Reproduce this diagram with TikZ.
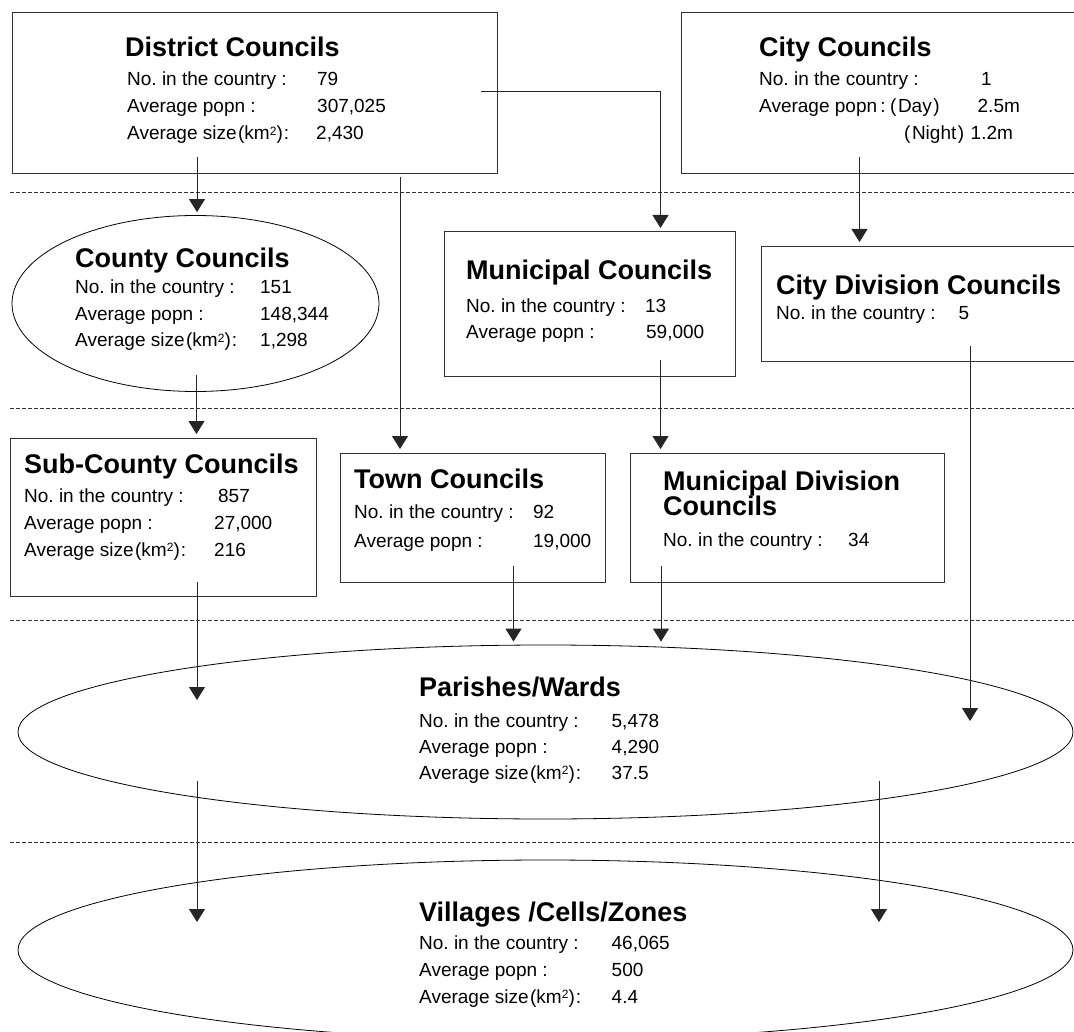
\documentclass[tikz,border=0pt]{standalone}
\usepackage{fontspec}
\setmainfont{Liberation Sans}
\usetikzlibrary{arrows.meta,shapes.geometric}
\newcommand{\kmsq}{size\kern1.5pt(km\raisebox{4.5pt}{\fontsize{12}{12}\selectfont 2})\kern1pt:}
\begin{document}
\frenchspacing
\begin{tikzpicture}[x=1pt,y=-1pt,
  box/.style={draw=black!80, line width=1pt, rectangle, inner sep=0pt, anchor=north west},
  oval/.style={draw=black, line width=0.8pt, ellipse, inner sep=0pt},
  ttl/.style={anchor=base west, inner sep=0pt, font=\fontsize{27}{27}\selectfont\bfseries},
  txt/.style={anchor=base west, inner sep=0pt, font=\fontsize{19}{19}\selectfont},
  conn/.style={line width=0.8pt, draw=black!85, -{Triangle[width=16pt,length=13pt]}},
  sep/.style={line width=0.9pt, dash pattern=on 3.5pt off 2.5pt, draw=black!80},
]
\useasboundingbox (0,0) rectangle (1074,1032);
\clip (0,0) rectangle (1074,1032);

% level separators
\foreach \yy in {192,408.5,620,842.5} \draw[sep] (10,\yy) -- (1074,\yy);

% shapes
\node[box, minimum width=485pt, minimum height=161pt] (district) at (12,12) {};
\node[box, minimum width=410pt, minimum height=161pt] (city) at (681,12) {};
\node[oval, minimum width=367pt, minimum height=176pt] (county) at (195.5,303.5) {};
\node[box, minimum width=291pt, minimum height=145pt] (muni) at (444,231) {};
\node[box, minimum width=330pt, minimum height=115pt] (cdiv) at (761,246) {};
\node[box, minimum width=306pt, minimum height=158pt] (sub) at (10,438) {};
\node[box, minimum width=265pt, minimum height=129pt] (town) at (340,453) {};
\node[box, minimum width=314pt, minimum height=129pt] (mdiv) at (630,453) {};
\node[oval, minimum width=1055pt, minimum height=174pt] (par) at (545.5,732) {};
\node[oval, minimum width=1055pt, minimum height=180pt] (vil) at (545.5,950) {};

% District
\node[ttl] (dt) at (125,57) {District Councils};
\node[txt] (dl1) at (127,86) {\makebox[190pt][l]{No. in the country :}79};
\node[txt] (dl2) at (127,113) {\makebox[190pt][l]{Average popn :}307,025};
\node[txt] (dl3) at (127,140) {\makebox[189pt][l]{Average \kmsq}2,430};
% City
\node[ttl] (ct) at (759,57) {City Councils};
\node[txt] (cl1) at (759,86) {\makebox[222pt][l]{No. in the country :}1};
\node[txt] (cl2) at (759,113) {\makebox[131pt][l]{Average popn\,:}\makebox[87.5pt][l]{(\kern1.5pt Day\kern1.5pt)}2.5m};
\node[txt] (cl3) at (904,140) {\makebox[66.5pt][l]{(\kern1.5pt Night\kern1.5pt)}1.2m};
% County
\node[ttl] (cot) at (75,268) {County Councils};
\node[txt] (col1) at (75,294) {\makebox[185pt][l]{No. in the country :}151};
\node[txt] (col2) at (75,320.5) {\makebox[185pt][l]{Average popn :}148,344};
\node[txt] (col3) at (75,347) {\makebox[185pt][l]{Average \kmsq}1,298};
% Municipal
\node[ttl] (mt) at (466,280) {Municipal Councils};
\node[txt] (ml1) at (466,313) {\makebox[179pt][l]{No. in the country :}13};
\node[txt] (ml2) at (466,339) {\makebox[180pt][l]{Average popn :}59,000};
% City Division
\node[ttl] (cdt) at (776,295) {City Division Councils};
\node[txt] (cdl1) at (776,320) {\makebox[182.5pt][l]{No. in the country :}5};
% Sub-County
\node[ttl] (st) at (24,473) {Sub-County Councils};
\node[txt] (sl1) at (24,502) {\makebox[194pt][l]{No. in the country :}857};
\node[txt] (sl2) at (24,529) {\makebox[190pt][l]{Average popn :}27,000};
\node[txt] (sl3) at (24,556) {\makebox[190pt][l]{Average \kmsq}216};
% Town
\node[ttl] (tt) at (354,488) {Town Councils};
\node[txt] (tl1) at (354,518) {\makebox[179pt][l]{No. in the country :}92};
\node[txt] (tl2) at (354,547) {\makebox[179pt][l]{Average popn :}19,000};
% Municipal Division
\node[ttl] (mdt1) at (663,490) {Municipal Division};
\node[ttl] (mdt2) at (663,515) {Councils};
\node[txt] (mdl1) at (663,546) {\makebox[185pt][l]{No. in the country :}34};
% Parishes
\node[ttl] (pt) at (419,696) {Parishes/Wards};
\node[txt] (pl1) at (419,727) {\makebox[192.5pt][l]{No. in the country :}5,478};
\node[txt] (pl2) at (419,753) {\makebox[192.5pt][l]{Average popn :}4,290};
\node[txt] (pl3) at (419,779) {\makebox[192.5pt][l]{Average \kmsq}37.5};
% Villages
\node[ttl] (vt) at (419,921) {Villages /Cells/Zones};
\node[txt] (vl1) at (419,949) {\makebox[192.5pt][l]{No. in the country :}46,065};
\node[txt] (vl2) at (419,976) {\makebox[192.5pt][l]{Average popn :}500};
\node[txt] (vl3) at (419,1003) {\makebox[192.5pt][l]{Average \kmsq}4.4};

% connector ends
\coordinate (d1) at (197,157);
\coordinate (d2) at (481,91);
\coordinate (d3) at (400,177);
\coordinate (c1) at (859.5,157);
\coordinate (co1) at (196.5,375);
\coordinate (m1) at (660.5,360);
\coordinate (cd1) at (970,346);
\coordinate (cd2) at (970,721);
\coordinate (sb1) at (197,582);
\coordinate (sb2) at (197,700);
\coordinate (t1) at (513.5,566);
\coordinate (md1) at (661,566);
\coordinate (p1) at (197,781);
\coordinate (p2) at (879,781);
\coordinate (v1) at (197,922);
\coordinate (v2) at (879,922);

% connectors
\draw[conn, shorten >=3pt] (d1) -- (d1 |- county.north);
\draw[conn, shorten >=3pt] (d2) -| (m1 |- muni.north);
\draw[conn, shorten >=4pt] (d3) -- (d3 |- town.north);
\draw[conn, shorten >=4pt] (c1) -- (c1 |- cdiv.north);
\draw[conn, shorten >=4pt] (co1) -- (co1 |- sub.north);
\draw[conn, shorten >=4pt] (m1) -- (m1 |- mdiv.north);
\draw[conn] (cd1) -- (cd2);
\draw[conn] (sb1) -- (sb2);
\draw[conn, shorten >=3pt] (t1) -- (t1 |- par.north);
\draw[conn, shorten >=3pt] (md1) -- (md1 |- par.north);
\draw[conn] (p1) -- (v1);
\draw[conn] (p2) -- (v2);
\end{tikzpicture}
\end{document}
